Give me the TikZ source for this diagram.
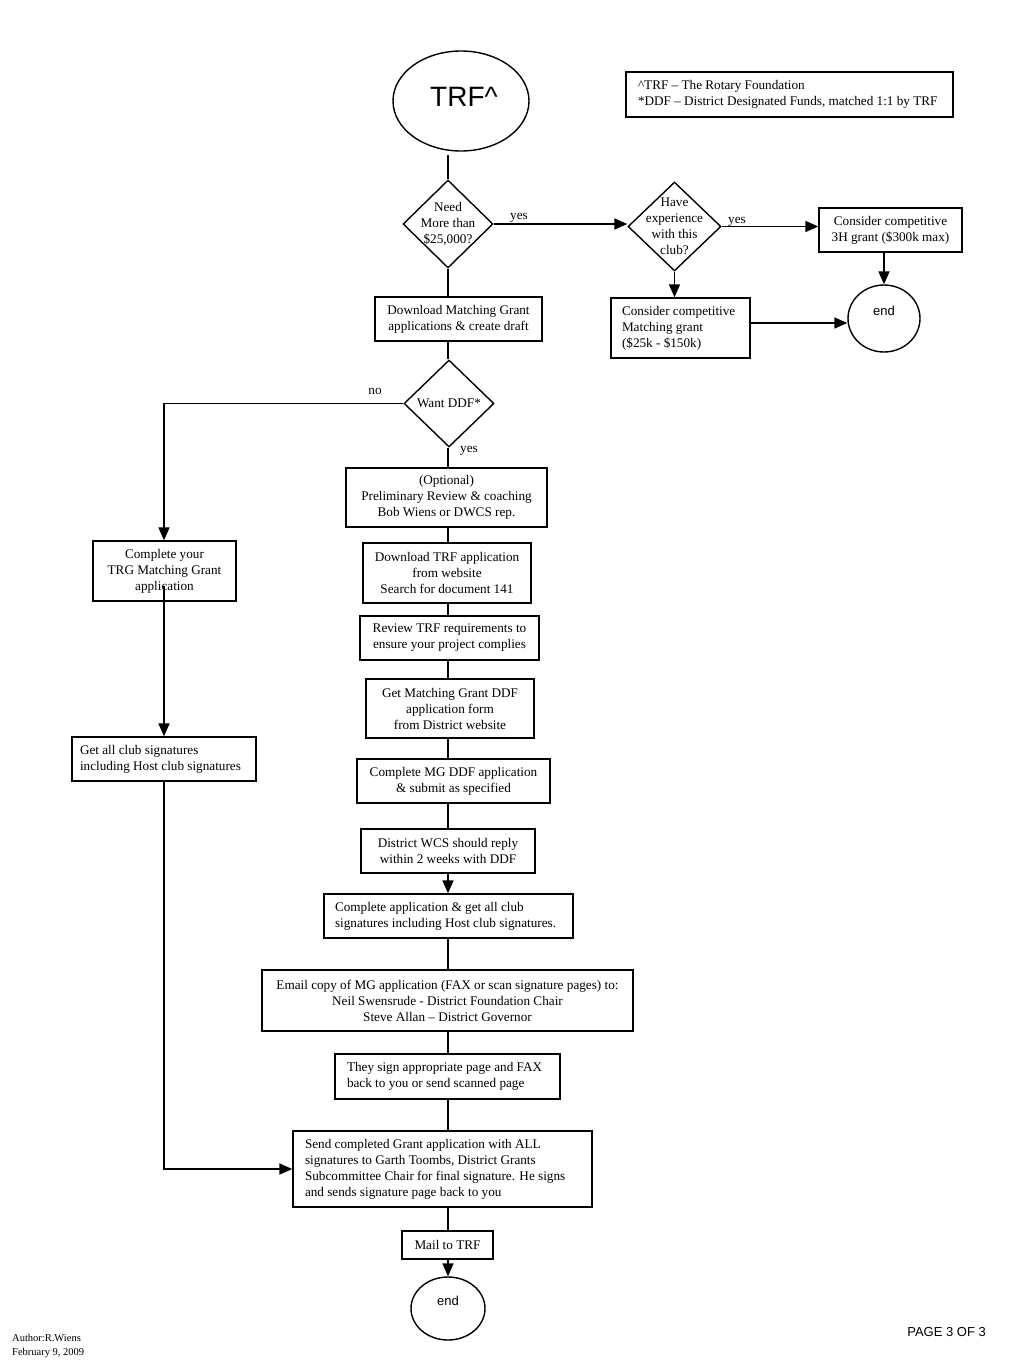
\documentclass[tikz,border=0pt]{standalone}
\usepackage{fontspec}
\setmainfont{Liberation Serif}
\newfontfamily\arialf{Liberation Sans}
\usetikzlibrary{shapes.geometric,arrows.meta}
\newcommand\myfs{\fontsize{13.2}{16}\selectfont}
\begin{document}
\begin{tikzpicture}[x=1pt,y=-1pt,
  box/.style={draw, line width=1.4pt, rectangle, inner sep=0pt, align=center, font=\myfs},
  lbox/.style={box, align=flush left, inner xsep=#1},
  dia/.style={draw, line width=1.4pt, diamond, inner sep=0pt},
  ell/.style={draw, line width=1.4pt, ellipse, inner sep=0pt},
  txt/.style={font=\myfs, align=center, inner sep=0pt},
  conn/.style={line width=1.7pt},
  arr/.style={conn, -{Triangle[length=13pt,width=11pt]}}]
\useasboundingbox (0,0) rectangle (1024,1365);
% legend
\node[lbox=12pt, text width=303pt, minimum width=327pt, minimum height=45pt] (legend) at (789.5,94.5)
  {\textasciicircum TRF – The Rotary Foundation\\{*}DDF – District Designated Funds, matched 1:1 by TRF};
% top
\node[ell, minimum width=136pt, minimum height=100pt] (trf) at (461,101) {};
\node[font=\arialf\fontsize{28}{30}\selectfont, inner sep=0pt] (trft) at (464,97) {TRF\textasciicircum};
\node[dia, minimum width=90pt, minimum height=88pt] (d1) at (448,224) {};
\node[txt] (d1t) at (448,224) {Need\\More than\\\$25,000?};
\node[dia, minimum width=93pt, minimum height=89pt] (d2) at (674.5,226.5) {};
\node[txt] (d2t) at (674.5,226.5) {Have\\experience\\with this\\club?};
\node[box, minimum width=143pt, minimum height=44pt] (h3) at (890.5,230) {Consider competitive\\3H grant (\$300k max)};
\node[ell, minimum width=72pt, minimum height=67pt] (e1) at (884,318.5) {};
\node[font=\arialf\fontsize{13}{15}\selectfont, inner sep=0pt] (e1t) at (884,311) {end};
\node[lbox=11pt, text width=117pt, minimum width=139pt, minimum height=60pt] (mg) at (680.5,328)
  {Consider competitive\\Matching grant\\(\$25k - \$150k)};
\node[box, minimum width=167pt, minimum height=44pt] (dl) at (458.5,319) {Download Matching Grant\\applications \& create draft};
\node[dia, minimum width=90pt, minimum height=87pt] (d3) at (449,403.5) {};
\node[txt] (d3t) at (449,403.5) {Want DDF*};
% labels
\node[txt] (y1) at (519,218) {yes};
\node[txt] (y2) at (737,222) {yes};
\node[txt] (no) at (375,391) {no};
\node[txt] (y3) at (469,451) {yes};
% main column
\node[box, minimum width=201pt, minimum height=59pt] (opt) at (446.5,497.5) {(Optional)\\Preliminary Review \& coaching\\Bob Wiens or DWCS rep.};
\node[box, minimum width=168pt, minimum height=60pt] (dltrf) at (447,573) {Download TRF application\\from website\\Search for document 141};
\node[box, minimum width=179pt, minimum height=44pt] (rev) at (449.5,638) {Review TRF requirements to\\ensure your project complies};
\node[box, minimum width=168pt, minimum height=59pt] (getmg) at (450,708.5) {Get Matching Grant DDF\\application form\\from District website};
\node[box, minimum width=193pt, minimum height=44pt] (compmg) at (453.5,781) {Complete MG DDF application\\\& submit as specified};
\node[box, minimum width=174pt, minimum height=44pt] (wcs) at (448,851) {District WCS should reply\\within 2 weeks with DDF};
\node[lbox=11pt, text width=227pt, minimum width=249pt, minimum height=44pt] (comp) at (448.5,916)
  {Complete application \& get all club\\signatures including Host club signatures.};
\node[box, minimum width=371pt, minimum height=61pt] (email) at (447.5,1000.5)
  {Email copy of MG application (FAX or scan signature pages) to:\\Neil Swensrude - District Foundation Chair\\Steve Allan – District Governor};
\node[lbox=12pt, text width=201pt, minimum width=225pt, minimum height=45pt] (they) at (447.5,1076.5)
  {They sign appropriate page and FAX\\back to you or send scanned page};
\node[lbox=12pt, text width=275pt, minimum width=299pt, minimum height=76pt] (send) at (442.5,1169)
  {Send completed Grant application with ALL\\signatures to Garth Toombs, District Grants\\Subcommittee Chair for final signature. He signs\\and sends signature page back to you};
\node[box, minimum width=91pt, minimum height=28pt] (mail) at (447.5,1245) {Mail to TRF};
\node[ell, minimum width=74pt, minimum height=63pt] (e2) at (448,1308.5) {};
\node[font=\arialf\fontsize{13}{15}\selectfont, inner sep=0pt] (e2t) at (448,1301) {end};
% left column
\node[box, minimum width=143pt, minimum height=60pt] (trg) at (164.5,571) {Complete your\\TRG Matching Grant\\application};
\node[lbox=8pt, text width=168pt, minimum width=184pt, minimum height=44pt] (get) at (164,759)
  {Get all club signatures\\including Host club signatures};
% footer
\node[anchor=west, align=left, inner sep=0pt, font=\fontsize{10.5}{14}\selectfont] (auth) at (12,1346) {Author:R.Wiens\\February 9, 2009};
\node[anchor=east, inner sep=0pt, font=\arialf\fontsize{13}{15}\selectfont] (page) at (986,1332) {PAGE 3 OF 3};
% connectors
\coordinate (X) at (448,0);
\coordinate (L) at (164,0);
\coordinate (tb) at (448,155);
\draw[conn] (tb) -- (d1.north);
\draw[arr] (d1.east) -- (d1.east -| d2.west);
\draw[arr] (d2.east) -- (d2.east -| h3.west);
\draw[arr] (e1.north |- h3.south) -- (e1.north);
\draw[arr] (d2.south) -- (d2.south |- mg.north);
\draw[arr] ([yshift=5pt,xshift=-2pt]mg.east) -- ([yshift=5pt]mg.east -| e1.west);
\draw[conn] (d1.south) -- (X |- dl.north);
\draw[conn] (X |- dl.south) -- (X |- d3.north);
\draw[arr] (d3.west) -| (L |- trg.north);
\draw[conn] (X |- d3.south) -- (X |- opt.north);
\draw[conn] (X |- opt.south) -- (X |- dltrf.north);
\draw[conn] (X |- dltrf.south) -- (X |- rev.north);
\draw[conn] (X |- rev.south) -- (X |- getmg.north);
\draw[conn] (X |- getmg.south) -- (X |- compmg.north);
\draw[conn] (X |- compmg.south) -- (X |- wcs.north);
\draw[arr] (X |- wcs.south) -- (X |- comp.north);
\draw[conn] (X |- comp.south) -- (X |- email.north);
\draw[conn] (X |- email.south) -- (X |- they.north);
\draw[conn] (X |- they.south) -- (X |- send.north);
\draw[conn] (X |- send.south) -- (X |- mail.north);
\draw[arr] (X |- mail.south) -- (e2.north);
\draw[arr] ([yshift=16pt]L |- trg.south) -- (L |- get.north);
\draw[arr] (L |- get.south) |- (send.west);
\end{tikzpicture}
\end{document}
